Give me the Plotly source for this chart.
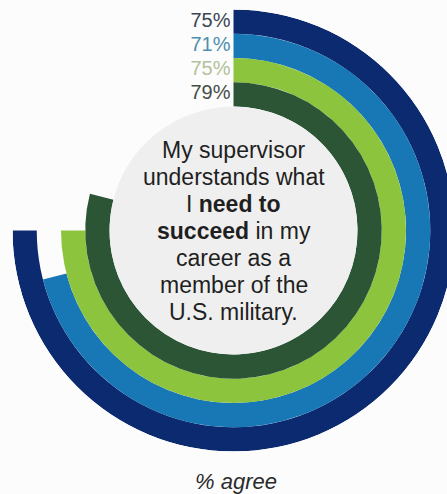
import plotly.graph_objects as go

# Survey result: share of respondents agreeing, one ring per group (outer -> inner)
groups = ["Group A", "Group B", "Group C", "Group D"]
pct_agree = [75, 71, 75, 79]
ring_colors = ["#0c2a70", "#1878b6", "#8cc43e", "#2c5536"]
label_colors = ["#3a4556", "#4e8fae", "#b3c29b", "#464d46"]

statement_lines = [
    "My supervisor",
    "understands what",
    "I <b>need to</b>",
    "<b>succeed</b> in my",
    "career as a",
    "member of the",
    "U.S. military.",
]
caption = "<i>% agree</i>"

# canvas geometry (pixels)
W, H = 470, 494
CX, CY = 233.5, 230.5
R_OUT = 221.0
R_IN = 124.0

def px_x(x):
    return x / W

def px_y(y):
    return 1 - y / H

n = len(groups)
bases = [n - 1 - i for i in range(n)]  # outer ring gets the highest base

fig = go.Figure()

fig.add_trace(go.Barpolar(
    r=[1] * n,
    base=bases,
    theta=[v * 3.6 / 2 for v in pct_agree],
    width=[v * 3.6 for v in pct_agree],
    marker=dict(color=ring_colors, line=dict(width=0)),
    hoverinfo="skip",
    showlegend=False,
))

# value labels sit just left of each ring's starting edge at 12 o'clock
label_r = [b + 0.5 for b in bases]
label_px = [R_IN + (R_OUT - R_IN) * r / n for r in label_r]
label_theta = [-3.0 / rp * 180 / 3.14159 for rp in label_px]

fig.add_trace(go.Scatterpolar(
    r=label_r,
    theta=label_theta,
    mode="text",
    text=[f"{v}%" for v in pct_agree],
    textposition="middle left",
    textfont=dict(family="Liberation Sans, Arial, sans-serif", size=20, color=label_colors),
    hoverinfo="skip",
    showlegend=False,
))

annotations = []
pitch = 27.0
first_baseline = 157.5
for i, line in enumerate(statement_lines):
    baseline = first_baseline + i * pitch
    annotations.append(dict(
        x=px_x(CX), y=px_y(baseline - 7.8), xref="paper", yref="paper",
        text=line, showarrow=False, xanchor="center", yanchor="middle",
        font=dict(family="Liberation Sans, Arial, sans-serif", size=23, color="#1f1f1f"),
    ))

annotations.append(dict(
    x=px_x(CX + 2), y=px_y(481), xref="paper", yref="paper",
    text=caption, showarrow=False, xanchor="center", yanchor="middle",
    font=dict(family="Liberation Sans, Arial, sans-serif", size=22, color="#2a2a2a"),
))

fig.update_layout(
    width=W, height=H,
    margin=dict(l=0, r=0, t=0, b=0),
    paper_bgcolor="#fcfcfc",
    plot_bgcolor="#fcfcfc",
    polar=dict(
        domain=dict(x=[px_x(CX - R_OUT), px_x(CX + R_OUT)],
                    y=[px_y(CY + R_OUT), px_y(CY - R_OUT)]),
        hole=R_IN / R_OUT,
        bgcolor="rgba(0,0,0,0)",
        radialaxis=dict(range=[0, n], visible=False),
        angularaxis=dict(rotation=90, direction="clockwise", visible=False,
                         showgrid=False, showline=False, ticks=""),
    ),
    shapes=[dict(
        type="circle", xref="paper", yref="paper", layer="below",
        x0=px_x(CX - R_IN), x1=px_x(CX + R_IN),
        y0=px_y(CY + R_IN), y1=px_y(CY - R_IN),
        fillcolor="#efefef", line=dict(width=0),
    )],
    annotations=annotations,
)

fig.write_html(
    "out.html",
    config={"displayModeBar": False, "responsive": False},
    post_script="document.body.style.margin='0';document.body.style.overflow='hidden';"
                "document.documentElement.style.overflow='hidden';",
)
